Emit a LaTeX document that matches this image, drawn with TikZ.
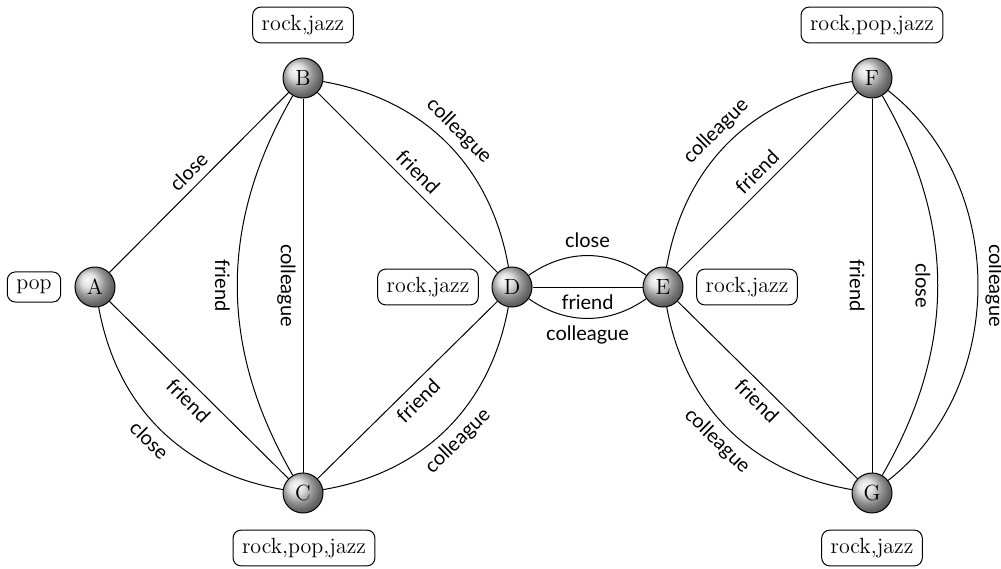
\documentclass[tikz,border=0pt]{standalone}
\usepackage{fontspec}
\newfontfamily\labfont{Lato}
\begin{document}
\begin{tikzpicture}[x=0.5pt,y=-0.5pt,
  vert/.style={circle, draw, line width=0.5pt, ball color=gray!32, minimum size=20pt, inner sep=0pt, font=\fontsize{11}{13}\selectfont},
  tagbox/.style={draw, rounded corners=4pt, line width=0.5pt, inner xsep=4.5pt, inner ysep=4pt, font=\fontsize{11}{13}\selectfont},
  link/.style={line width=0.5pt},
  lab/.style={sloped, font=\labfont\fontsize{10}{12}\selectfont, inner sep=3.5pt}]
\useasboundingbox (0,0) rectangle (1001,568);
% vertices
\node[vert] (A) at (95,287) {A};
\node[vert] (B) at (303,78) {B};
\node[vert] (C) at (303,493) {C};
\node[vert] (D) at (512,287) {D};
\node[vert] (E) at (663,287) {E};
\node[vert] (F) at (872,78) {F};
\node[vert] (G) at (872,493) {G};
% tags
\node[tagbox] (tA) at (34,287) {pop};
\node[tagbox] (tB) at (303,25) {rock,jazz};
\node[tagbox] (tC) at (304,548) {rock,pop,jazz};
\node[tagbox] (tD) at (428,287) {rock,jazz};
\node[tagbox] (tE) at (747,287) {rock,jazz};
\node[tagbox] (tF) at (872,25) {rock,pop,jazz};
\node[tagbox] (tG) at (872,548) {rock,jazz};
% edges
\draw[link] (A) -- node[lab, above] {close} (B);
\draw[link] (A) -- node[lab, below] {friend} (C);
\draw[link] (A) to[bend right=35] node[lab, below] {close} (C);
\draw[link] (B) to[bend right=30] node[lab, below] {friend} (C);
\draw[link] (B) -- node[lab, below] {colleague} (C);
\draw[link] (B) -- node[lab, above] {friend} (D);
\draw[link] (B) to[bend left=35] node[lab, above] {colleague} (D);
\draw[link] (C) -- node[lab, below] {friend} (D);
\draw[link] (C) to[bend right=35] node[lab, below] {colleague} (D);
\draw[link] (D) to[bend left=35] node[lab, above] {close} (E);
\draw[link] (D) -- node[lab, below] {friend} (E);
\draw[link] (D) to[bend right=35] node[lab, below] {colleague} (E);
\draw[link] (E) -- node[lab, above] {friend} (F);
\draw[link] (E) to[bend left=35] node[lab, above] {colleague} (F);
\draw[link] (E) -- node[lab, below] {friend} (G);
\draw[link] (E) to[bend right=35] node[lab, below] {colleague} (G);
\draw[link] (F) -- node[lab, below] {friend} (G);
\draw[link] (F) to[bend left=30] node[lab, below] {close} (G);
\draw[link] (F) to[bend left=52] node[lab, above] {colleague} (G);
\end{tikzpicture}
\end{document}
